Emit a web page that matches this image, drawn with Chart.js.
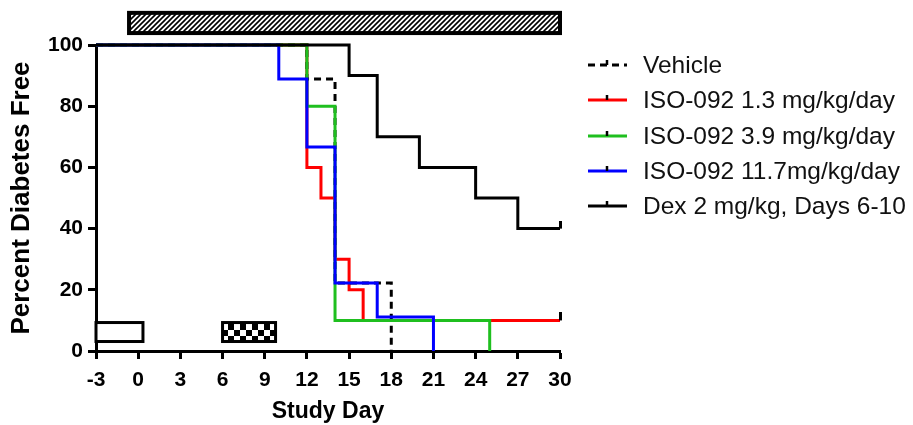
<!DOCTYPE html>
<html>
<head>
<meta charset="utf-8">
<script src="https://cdn.jsdelivr.net/npm/chart.js@4/dist/chart.umd.min.js"></script>
<style>
  html, body { margin: 0; padding: 0; background: #fff; }
  #wrap { width: 913px; height: 425px; position: relative; }
</style>
</head>
<body>
<div id="wrap"><canvas id="c" width="913" height="425"></canvas></div>
<script>
// ---- Data ----
const seriesLabels = ['Vehicle', 'ISO-092 1.3 mg/kg/day', 'ISO-092 3.9 mg/kg/day', 'ISO-092 11.7mg/kg/day', 'Dex 2 mg/kg, Days 6-10'];
const vehicleDays   = [-3, 12, 14, 18];
const vehicleValues = [100, 88.9, 22.2, 0];
const iso13Days     = [-3, 12, 13, 14, 15, 16, 30];
const iso13Values   = [100, 60, 50, 30, 20, 10, 10];
const iso39Days     = [-3, 12, 14, 25];
const iso39Values   = [100, 80, 10, 0];
const iso117Days    = [-3, 10, 12, 14, 17, 21];
const iso117Values  = [100, 88.9, 66.7, 22.2, 11.1, 0];
const dexDays       = [-3, 15, 17, 20, 24, 27, 30];
const dexValues     = [100, 90, 70, 60, 50, 40, 40];
const xTicks = [-3, 0, 3, 6, 9, 12, 15, 18, 21, 24, 27, 30];
const yTicks = [0, 20, 40, 60, 80, 100];

// ---- Styles ----
const colors = ['#000000', '#ff0000', '#1fbf1f', '#0000ff', '#000000'];
const dashes = [[7, 5], [], [], [], []];
const drawOrder = [3, 4, 2, 1, 0]; // lower = drawn on top

// treatment boxes in axis units (days, percent)
const boxes = [
  { x0: -0.65, x1: 30.0, y0: 103.9, y1: 110.5, fill: 'hatch', lw: 4 },
  { x0: -3.0,  x1: 0.34, y0: 3.1,   y1: 9.3,   fill: 'white', lw: 3 },
  { x0: 6.0,   x1: 9.77, y0: 3.1,   y1: 9.3,   fill: 'check', lw: 3 }
];

function stepPoints(days, vals) {
  const pts = [];
  for (let i = 0; i < days.length; i++) {
    pts.push({ x: days[i], y: vals[i] });
    if (i + 1 < days.length) pts.push({ x: days[i + 1], y: vals[i] });
  }
  return pts;
}

function tickCanvas(color) {
  const c = document.createElement('canvas');
  c.width = 3; c.height = 16;
  const g = c.getContext('2d');
  g.fillStyle = color;
  g.fillRect(0, 0, 3, 8);
  return c;
}

const allDays = [vehicleDays, iso13Days, iso39Days, iso117Days, dexDays];
const allVals = [vehicleValues, iso13Values, iso39Values, iso117Values, dexValues];

const datasets = seriesLabels.map((lab, i) => {
  const pts = stepPoints(allDays[i], allVals[i]);
  const last = pts.length - 1;
  const tick = tickCanvas('#000');
  return {
    label: lab,
    data: pts,
    borderColor: colors[i],
    backgroundColor: colors[i],
    borderWidth: 3,
    borderDash: dashes[i],
    fill: false,
    tension: 0,
    order: drawOrder[i],
    clip: 8,
    pointStyle: tick,
    pointRadius: ctx => (ctx.dataIndex === last && pts[last].y > 0) ? 4 : 0,
    pointHoverRadius: 0
  };
});

function makeHatch() {
  const c = document.createElement('canvas');
  c.width = 5; c.height = 5;
  const g = c.getContext('2d');
  g.fillStyle = '#fff'; g.fillRect(0, 0, 5, 5);
  g.strokeStyle = '#000'; g.lineWidth = 1.6;
  g.beginPath();
  g.moveTo(-1, 6); g.lineTo(6, -1);
  g.moveTo(-2, 2); g.lineTo(2, -2);
  g.moveTo(3, 7); g.lineTo(7, 3);
  g.stroke();
  return c;
}
function makeCheck() {
  const c = document.createElement('canvas');
  c.width = 12; c.height = 12;
  const g = c.getContext('2d');
  g.fillStyle = '#fff'; g.fillRect(0, 0, 12, 12);
  g.fillStyle = '#000';
  g.fillRect(0, 0, 6, 6); g.fillRect(6, 6, 6, 6);
  return c;
}

const boxPlugin = {
  id: 'boxes',
  afterDraw(chart) {
    const { ctx, scales: { x, y } } = chart;
    ctx.save();
    boxes.forEach(b => {
      const px0 = x.getPixelForValue(b.x0), px1 = x.getPixelForValue(b.x1);
      const py0 = y.getPixelForValue(b.y1), py1 = y.getPixelForValue(b.y0);
      let fs = '#fff';
      if (b.fill === 'hatch') fs = ctx.createPattern(makeHatch(), 'repeat');
      if (b.fill === 'check') fs = ctx.createPattern(makeCheck(), 'repeat');
      ctx.fillStyle = fs;
      ctx.fillRect(px0, py0, px1 - px0, py1 - py0);
      ctx.lineWidth = b.lw;
      ctx.strokeStyle = '#000';
      ctx.setLineDash([]);
      ctx.strokeRect(px0, py0, px1 - px0, py1 - py0);
    });
    ctx.restore();
  }
};

const legendPlugin = {
  id: 'kmLegend',
  afterDraw(chart) {
    const ctx = chart.ctx;
    const x0 = 588, x1 = 627, tx = 643, ys = [65, 100, 136, 171, 206];
    ctx.save();
    chart.data.datasets.forEach((ds, i) => {
      const yy = ys[i];
      ctx.strokeStyle = ds.borderColor;
      ctx.lineWidth = 3;
      ctx.setLineDash(ds.borderDash || []);
      ctx.beginPath(); ctx.moveTo(x0, yy); ctx.lineTo(x1, yy); ctx.stroke();
      ctx.setLineDash([]);
      ctx.strokeStyle = '#000';
      ctx.lineWidth = 2.5;
      ctx.beginPath(); ctx.moveTo(607, yy); ctx.lineTo(607, yy - 5); ctx.stroke();
      ctx.fillStyle = '#111';
      ctx.font = '24.5px "Liberation Sans", Arial, sans-serif';
      ctx.textBaseline = 'middle';
      ctx.textAlign = 'left';
      ctx.fillText(ds.label, tx, yy + 1);
    });
    ctx.restore();
  }
};

const tickFont = { family: '"Liberation Sans", Arial, sans-serif', size: 21, weight: 'bold' };
const xTitleFont = { family: '"Liberation Sans", Arial, sans-serif', size: 23, weight: 'bold', lineHeight: 1.2 };
const yTitleFont = { family: '"Liberation Sans", Arial, sans-serif', size: 26, weight: 'bold', lineHeight: 1.2 };

new Chart(document.getElementById('c'), {
  type: 'line',
  data: { datasets },
  plugins: [boxPlugin, legendPlugin],
  options: {
    responsive: false,
    animation: false,
    events: [],
    layout: { padding: { left: 0, top: 45, right: 353, bottom: 0 } },
    plugins: { legend: { display: false }, tooltip: { enabled: false } },
    scales: {
      x: {
        type: 'linear',
        min: -3, max: 30,
        afterBuildTicks: s => { s.ticks = xTicks.map(v => ({ value: v })); },
        afterFit: s => { s.height = 74; },
        ticks: { color: '#000', font: tickFont, padding: 9, maxRotation: 0, autoSkip: false },
        grid: { drawOnChartArea: false, drawTicks: true, tickLength: 8, tickWidth: 3, tickColor: '#000' },
        border: { display: true, color: '#000', width: 3 },
        title: { display: true, text: 'Study Day', color: '#000', font: xTitleFont, padding: { top: 0, bottom: 0 } }
      },
      y: {
        type: 'linear',
        min: 0, max: 100,
        afterBuildTicks: s => { s.ticks = yTicks.map(v => ({ value: v })); },
        afterFit: s => { s.width = 96; },
        ticks: { color: '#000', font: tickFont, padding: 5 },
        grid: { drawOnChartArea: false, drawTicks: true, tickLength: 8, tickWidth: 3, tickColor: '#000' },
        border: { display: true, color: '#000', width: 3 },
        title: { display: true, text: 'Percent Diabetes Free', color: '#000', font: yTitleFont, padding: { top: 6, bottom: 0 } }
      }
    }
  }
});
</script>
</body>
</html>
